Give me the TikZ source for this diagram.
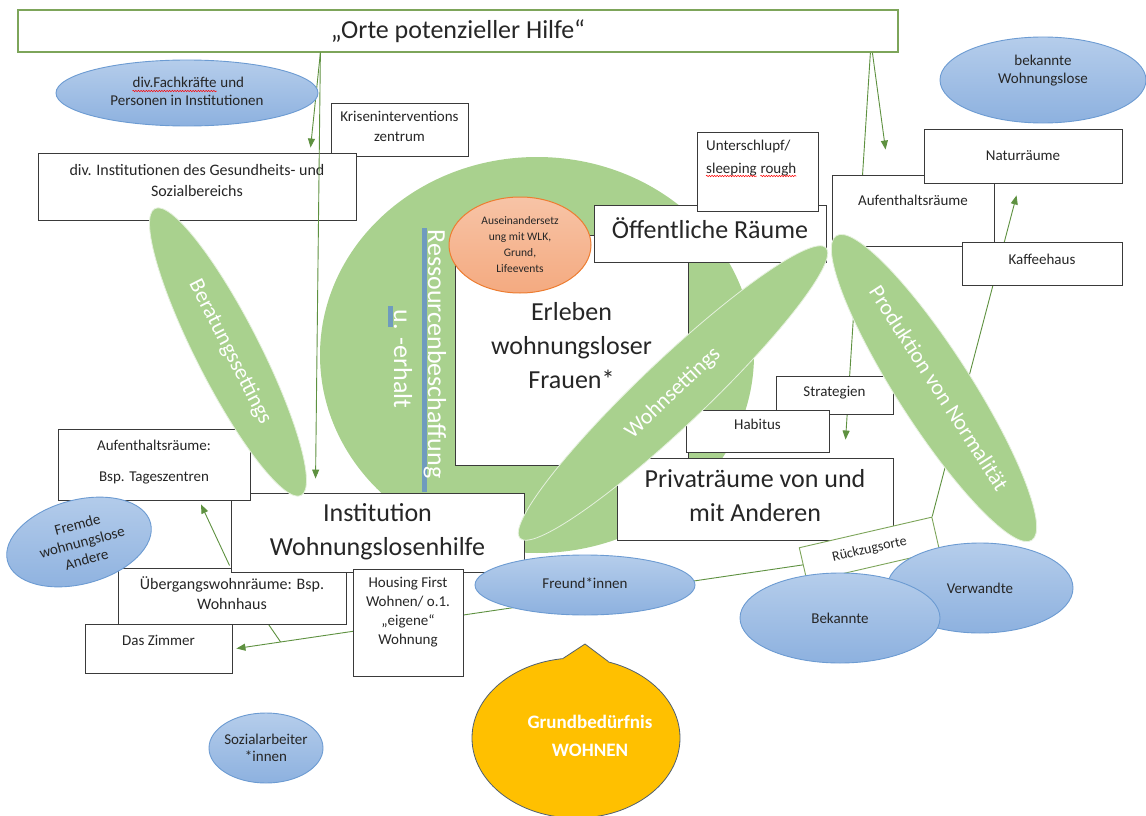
\documentclass[tikz,border=0pt]{standalone}
\usepackage{fontspec}
\setmainfont{Carlito}
\usetikzlibrary{shapes.geometric, arrows.meta, positioning, decorations.pathmorphing}

\definecolor{leafgreen}{HTML}{A9D18E}
\definecolor{titlegreen}{HTML}{7DA55A}
\definecolor{linkgreen}{HTML}{5E9140}
\definecolor{boxline}{HTML}{3A3A3A}
\definecolor{inktext}{HTML}{262626}
\definecolor{persontop}{HTML}{B5CDEB}
\definecolor{personbottom}{HTML}{8DB1DF}
\definecolor{personline}{HTML}{6C9BD2}
\definecolor{topicfill}{HTML}{F4AA80}
\definecolor{topicline}{HTML}{ED7D31}
\definecolor{needfill}{HTML}{FFC000}
\definecolor{needline}{HTML}{4F5F70}
\definecolor{markblue}{HTML}{6F9BBE}

\pgfdeclarelayer{background}
\pgfsetlayers{background,main}

\tikzset{
	block/.style={draw=boxline, fill=white, line width=0.9pt, inner sep=0pt},
	titleblock/.style={draw=titlegreen, fill=white, line width=1.2pt, inner sep=0pt},
	person/.style={ellipse, draw=personline, line width=0.9pt, top color=persontop, bottom color=personbottom, inner sep=0pt},
	setting/.style={ellipse, fill=leafgreen, draw=white!70!leafgreen, line width=0.8pt, inner sep=0pt},
	topic/.style={ellipse, draw=topicline, line width=1pt, top color=topicfill!70!white, bottom color=topicfill, inner sep=0pt},
	needbubble/.style={ellipse, draw=needline, fill=needfill, line width=0.8pt, inner sep=0pt},
	bigtext/.style={font=\fontsize{26}{34}\selectfont, align=center, text=inktext, inner sep=0pt},
	smalltext/.style={font=\fontsize{15}{20}\selectfont, align=center, text=inktext, inner sep=0pt},
	persontext/.style={font=\fontsize{15}{17.5}\selectfont, align=center, text=inktext, inner sep=0pt},
	settingtext/.style={font=\fontsize{22}{26}\selectfont, text=white, inner sep=0pt},
	spellline/.style={draw=red, line width=0.5pt, decorate, decoration={snake, amplitude=0.7pt, segment length=2.6pt}},
	link/.style={draw=linkgreen, line width=0.9pt, -{Triangle[length=9pt, width=7pt]}}
}

\begin{document}
\begin{tikzpicture}[x=1pt, y=-1pt]
	\useasboundingbox (0,0) rectangle (1146,816);

	\node[fill=markblue, inner sep=0pt, minimum width=5pt, minimum height=264pt] (resbar) at (424,360) {};
	\node[bigtext, text=white, rotate=-90] (restxt) at (435,354) {Ressourcenbeschaffung};
	\node[fill=markblue, inner sep=0pt, minimum width=5pt, minimum height=21pt] (keepbar) at (390,316.5) {};
	\node[bigtext, text=white, rotate=-90] (keeptxt) at (403,359) {u. -erhalt};

	\node[titleblock, minimum width=880pt, minimum height=42pt] (title) at (458,31) {};
	\node[bigtext] (titletxt) at (title) {„Orte potenzieller Hilfe“};

	\node[block, minimum width=137pt, minimum height=53pt] (crisis) at (399.5,129.5) {};
	\node[smalltext] (crisistxt) at ([yshift=3pt]crisis.center) {Kriseninterventions\\zentrum};

	\node[block, minimum width=318pt, minimum height=67pt] (healthinst) at (197,186.5) {};
	\node[smalltext, font=\fontsize{16}{21}\selectfont] (healthinsttxt) at ([yshift=6pt]healthinst.center) {div. Institutionen des Gesundheits- und\\Sozialbereichs};

	\node[block, minimum width=233pt, minimum height=230pt] (experience) at (571.5,350) {};
	\node[bigtext] (experiencetxt) at ([yshift=4pt]experience.center) {Erleben\\wohnungsloser\\Frauen*};

	\node[topic, minimum width=142pt, minimum height=96pt] (topics) at (520,245) {};
	\node[font=\fontsize{11.5}{16}\selectfont, align=center, text=inktext, inner sep=0pt] (topicstxt) at (topics) {Auseinandersetz\\ung mit WLK,\\Grund,\\Lifeevents};

	\node[block, minimum width=232pt, minimum height=57pt] (publicspace) at (710,233.5) {};
	\node[bigtext] (publicspacetxt) at ([yshift=5pt]publicspace.center) {Öffentliche Räume};

	\node[block, minimum width=121pt, minimum height=79pt] (shelter) at (757.5,171.5) {};
	\node[smalltext, anchor=base west] (shelterline) at (706,150) {Unterschlupf/};
	\node[smalltext, anchor=base west] (sleepword) at (706,173) {sleeping};
	\node[smalltext, anchor=base west] (roughword) at ([xshift=3.4pt]sleepword.base east) {rough};
	\draw[spellline] ([yshift=-3pt]sleepword.base west) -- ([yshift=-3pt]sleepword.base east);
	\draw[spellline] ([yshift=-3pt]roughword.base west) -- ([yshift=-3pt]roughword.base east);

	\node[block, minimum width=162pt, minimum height=71pt] (stayright) at (913,210.5) {};
	\node[smalltext] (stayrighttxt) at ([yshift=10pt]stayright.center) {Aufenthaltsräume};

	\node[block, minimum width=198pt, minimum height=54pt] (nature) at (1023,156) {};
	\node[smalltext] (naturetxt) at (nature) {Naturräume};

	\node[block, minimum width=160pt, minimum height=43pt] (cafe) at (1042,263.5) {};
	\node[smalltext] (cafetxt) at ([yshift=4pt]cafe.center) {Kaffeehaus};

	\node[block, minimum width=117pt, minimum height=38pt] (strategy) at (834.5,395) {};
	\node[smalltext] (strategytxt) at ([yshift=2pt]strategy.center) {Strategien};

	\node[block, minimum width=143pt, minimum height=42pt] (habitus) at (757.5,431) {};
	\node[smalltext] (habitustxt) at ([yshift=7pt]habitus.center) {Habitus};

	\node[block, minimum width=276pt, minimum height=82pt] (privatespace) at (755,499) {};
	\node[bigtext] (privatespacetxt) at ([yshift=3pt]privatespace.center) {Privaträume von und\\mit Anderen};

	\node[block, minimum width=228pt, minimum height=56pt] (transition) at (232,596) {};
	\node[smalltext, font=\fontsize{16}{20}\selectfont] (transitiontxt) at ([yshift=3pt]transition.center) {Übergangswohnräume: Bsp.\\Wohnhaus};

	\node[block, minimum width=293pt, minimum height=79pt] (institution) at (377.5,532.5) {};
	\node[bigtext] (institutiontxt) at ([yshift=1pt]institution.center) {Institution\\Wohnungslosenhilfe};

	\node[block, minimum width=192pt, minimum height=71pt] (stayleft) at (154,464.5) {};
	\node[smalltext] (staylefttxt) at ([yshift=2pt]stayleft.center) {Aufenthaltsräume:\\[11pt]Bsp. Tageszentren};

	\node[block, minimum width=110pt, minimum height=107pt] (housing) at (408,622.5) {};
	\node[smalltext, font=\fontsize{15}{19}\selectfont] (housingtxt) at ([yshift=10pt]housing.center) {Housing First\\Wohnen/ o.1.\\„eigene“\\Wohnung};

	\node[block, minimum width=147pt, minimum height=49pt] (room) at (158.5,648.5) {};
	\node[smalltext] (roomtxt) at ([yshift=8.5pt]room.center) {Das Zimmer};

	\draw[link] ([xshift=303pt]title.south west) -- ([xshift=273pt,yshift=5pt]healthinst.north west);
	\draw[link] ([xshift=303pt]title.south west) -- ([xshift=85pt,yshift=14pt]institution.north west);
	\draw[link] ([xshift=855pt]title.south west) -- ([xshift=54pt,yshift=25pt]stayright.north west);
	\draw[link] ([xshift=112pt,yshift=2pt]transition.north west) -- ([xshift=47pt,yshift=-4pt]stayleft.south);

	\node[setting, rotate=-63, minimum width=322pt, minimum height=64pt] (counselling) at (228,352) {};
	\node[settingtext, rotate=-63] (counsellingtxt) at ([xshift=2pt]counselling.center) {Beratungssettings};
	\node[setting, rotate=43.5, minimum width=422pt, minimum height=66pt] (living) at (673,393) {};
	\node[settingtext, rotate=43.5] (livingtxt) at (living) {Wohnsettings};
	\node[setting, rotate=-57.3, minimum width=362pt, minimum height=74pt] (normality) at (934,388) {};
	\node[settingtext, rotate=-57.3] (normalitytxt) at ([xshift=5pt]normality.center) {Produktion von Normalität};

	\node[block, draw=titlegreen, rotate=13, minimum width=136pt, minimum height=35pt] (retreat) at (869.5,549.5) {};
	\node[smalltext, font=\fontsize{14}{16}\selectfont, rotate=13] (retreattxt) at (retreat) {Rückzugsorte};

	\node[person, minimum width=262pt, minimum height=66pt] (experts) at (187,93) {};
	\node[persontext, anchor=base east] (fachword) at (216.8,88) {div.Fachkräfte};
	\node[persontext, anchor=base west] (undword) at (fachword.base east) {\ und};
	\node[persontext, anchor=base] (personsline) at (187,105.5) {Personen in Institutionen};
	\draw[spellline] ([yshift=-3pt]fachword.base west) -- ([yshift=-3pt]fachword.base east);
	\node[person, minimum width=206pt, minimum height=86pt] (knownhomeless) at (1043,80) {};
	\node[persontext, font=\fontsize{15}{18}\selectfont] (knownhomelesstxt) at ([yshift=9pt]knownhomeless.center) {bekannte\\Wohnungslose};
	\node[person, rotate=15, minimum width=148pt, minimum height=84pt] (strangers) at (79,542) {};
	\node[persontext, font=\fontsize{15}{18}\selectfont, rotate=15] (strangerstxt) at ([xshift=3pt]strangers.center) {Fremde\\wohnungslose\\Andere};
	\node[person, minimum width=220pt, minimum height=60pt] (friends) at (585,585) {};
	\node[persontext] (friendstxt) at ([yshift=2pt]friends.center) {Freund*innen};
	\node[person, minimum width=186pt, minimum height=90pt] (relatives) at (980,588) {};
	\node[persontext] (relativestxt) at (relatives) {Verwandte};
	\node[person, minimum width=200pt, minimum height=90pt] (acquaintances) at (840,618) {};
	\node[persontext] (acquaintancestxt) at (acquaintances) {Bekannte};
	\node[person, minimum width=114pt, minimum height=70pt] (socialworkers) at (266,748) {};
	\node[persontext] (socialworkerstxt) at (socialworkers) {Sozialarbeiter\\*innen};

	\node[needbubble, minimum width=208pt, minimum height=160pt] (need) at (576,738) {};
	\coordinate (needtip) at (585,644);
	\fill[needfill] (need.99) -- (needtip) -- (need.67) -- (need.center) -- cycle;
	\draw[needline, line width=0.8pt] (need.99) -- (needtip) -- (need.67);
	\node[font=\fontsize{19}{28}\selectfont\bfseries, align=center, text=white, inner sep=0pt] (needtxt) at (590,736) {Grundbedürfnis\\WOHNEN};

	\begin{pgfonlayer}{background}
		\fill[white] (0,0) rectangle (1146,816);
		\node[ellipse, fill=leafgreen, inner sep=0pt, minimum width=434pt, minimum height=396pt] (resources) at (537,355) {};
		\draw[link] ([xshift=853pt]title.south west) -- ([xshift=229pt,yshift=18pt]privatespace.north west);
		\draw[link] (retreat.north east) -- ([xshift=93pt,yshift=-12pt]nature.south west);
		\draw[link] (retreat.west) -- coordinate[pos=0.922] (tickfoot) ([xshift=4pt]room.east);
		\draw[link, -] (tickfoot) -- ([xshift=151pt]transition.south west);
	\end{pgfonlayer}
\end{tikzpicture}
\end{document}
